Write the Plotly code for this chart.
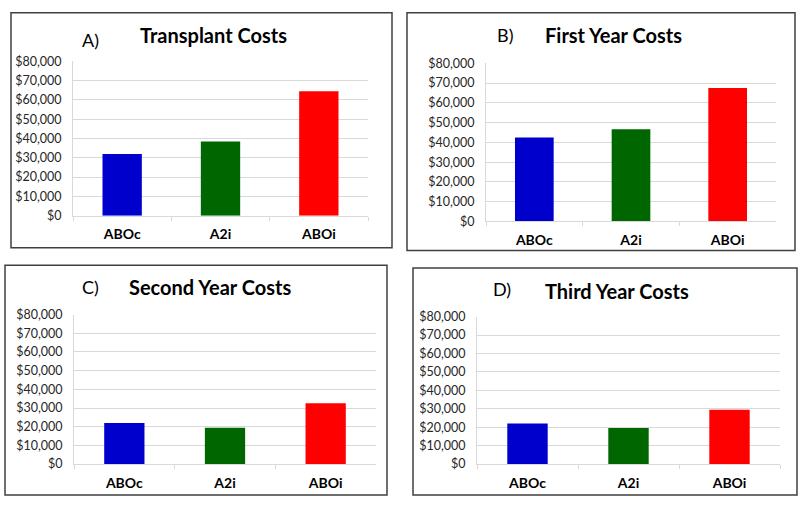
import plotly.graph_objects as go

categories = ["ABOc", "A2i", "ABOi"]
transplant_costs = [32000, 38500, 64500]
first_year_costs = [42500, 46700, 67500]
second_year_costs = [22000, 19500, 32500]
third_year_costs = [22000, 19500, 29500]
panel_titles = ["Transplant Costs", "First Year Costs", "Second Year Costs", "Third Year Costs"]
panel_letters = ["A)", "B)", "C)", "D)"]
tick_vals = [0, 10000, 20000, 30000, 40000, 50000, 60000, 70000, 80000]
tick_text = ["$0", "$10,000", "$20,000", "$30,000", "$40,000", "$50,000", "$60,000", "$70,000", "$80,000"]
bar_colors = ["#0000CC", "#006600", "#FF0000"]

W, H = 800, 506
FONT = "Lato"

# panel layout in pixels: plot area (x0, x1, y0, y1), border box, title pos, letter pos
panels = [
    dict(plot=(73, 368, 55, 214), box=(11, 5, 392, 247), title=(213, 28), letter=(90, 33)),
    dict(plot=(486, 776, 57, 220), box=(407, 5, 795, 250), title=(613, 28), letter=(505, 28)),
    dict(plot=(74, 376, 316, 470), box=(5, 265, 387, 502), title=(210, 288), letter=(90, 288)),
    dict(plot=(477, 780, 318, 470), box=(413, 268, 797, 502), title=(617, 292), letter=(502, 290)),
]
series = [transplant_costs, first_year_costs, second_year_costs, third_year_costs]

fig = go.Figure()
layout = dict(
    width=W, height=H,
    margin=dict(l=0, r=0, t=0, b=0),
    paper_bgcolor="white", plot_bgcolor="white",
    showlegend=False,
    font=dict(family=FONT, color="#262626"),
    shapes=[], annotations=[],
)

for i, (p, vals) in enumerate(zip(panels, series)):
    n = "" if i == 0 else str(i + 1)
    x0, x1, y0, y1 = p["plot"]
    fig.add_trace(go.Bar(
        x=categories, y=vals, width=0.4,
        marker=dict(color=bar_colors, line=dict(width=0)),
        xaxis="x" + n, yaxis="y" + n,
    ))
    layout["xaxis" + n] = dict(
        domain=[x0 / W, x1 / W], anchor="y" + n,
        showline=True, linecolor="#D9D9D9", linewidth=1,
        ticks="outside", tickson="boundaries", ticklen=4, tickcolor="#D9D9D9",
        tickfont=dict(family=FONT, size=14, color="black", weight="bold"),
        ticklabelstandoff=6,
        showgrid=False, fixedrange=True,
    )
    layout["yaxis" + n] = dict(
        domain=[1 - y1 / H, 1 - y0 / H], anchor="x" + n,
        range=[0, 80000], tickvals=tick_vals, ticktext=tick_text,
        showgrid=True, gridcolor="#D9D9D9", gridwidth=1,
        showline=True, linecolor="#D9D9D9", linewidth=1,
        ticks="", tickfont=dict(family=FONT, size=12.5, color="#262626"),
        ticklabelstandoff=8, zeroline=False, fixedrange=True,
    )
    bx0, by0, bx1, by1 = p["box"]
    layout["shapes"].append(dict(
        type="rect", xref="paper", yref="paper",
        x0=bx0 / W, x1=bx1 / W, y0=1 - by1 / H, y1=1 - by0 / H,
        line=dict(color="#404040", width=1.5), fillcolor="rgba(0,0,0,0)",
    ))
    tx, ty = p["title"]
    layout["annotations"].append(dict(
        text=panel_titles[i], xref="paper", yref="paper",
        x=tx / W, y=1 - ty / H, xanchor="center", yanchor="middle",
        showarrow=False, font=dict(family=FONT, size=20, color="black", weight="bold"),
    ))
    lx, ly = p["letter"]
    layout["annotations"].append(dict(
        text=panel_letters[i], xref="paper", yref="paper",
        x=lx / W, y=1 - ly / H, xanchor="center", yanchor="middle",
        showarrow=False, font=dict(family=FONT, size=18, color="black"),
    ))

fig.update_layout(**layout)
fig.write_html(
    "out.html",
    config={"displayModeBar": False},
    post_script="document.body.style.margin='0';document.body.style.overflow='hidden';",
)
